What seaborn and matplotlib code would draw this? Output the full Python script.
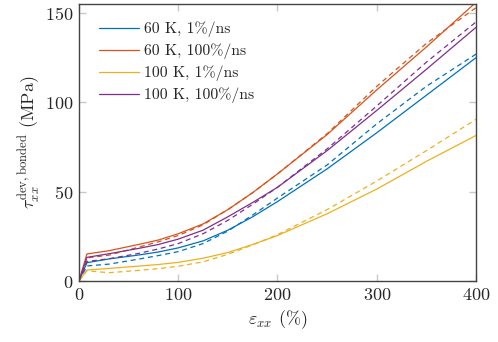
import pandas as pd
import matplotlib
matplotlib.use('Agg')
import matplotlib.pyplot as plt
import seaborn as sns

strain = [0, 8, 30, 60, 80, 100, 125, 150, 175, 200, 250, 300, 350, 400]

# solid = simulation, dashed = model
k60_slow = [0, 10.3, 12.4, 14.6, 16.3, 18.6, 22.5, 28.5, 36, 44.5, 62.8, 83, 104, 125]
k60_slow_dash = [0, 8.5, 9.5, 12.3, 14.3, 16.5, 21, 28, 37, 46.5, 65, 88, 109, 127]
k60_fast = [0, 15.2, 17, 20.5, 23, 26.5, 32, 40, 49.5, 60, 82, 107, 131, 156]
k60_fast_dash = [0, 13, 14.5, 19, 22, 25.5, 31.5, 40, 49.5, 60, 82.5, 109, 133, 153]
k100_slow = [0, 6.2, 7.1, 8.4, 9.3, 10.5, 12.8, 16, 20.5, 25.5, 37.7, 51.5, 67, 81.5]
k100_slow_dash = [0, 5.8, 4.7, 6.0, 7, 8.3, 10.8, 15, 20.3, 26, 40, 56, 73, 90.5]
k100_fast = [0, 13.3, 15.3, 18.3, 20.5, 23.5, 28.5, 36, 44, 52.5, 73, 95.5, 118.5, 142]
k100_fast_dash = [0, 11, 12.5, 15.5, 18, 21, 26.5, 34, 43, 52.5, 74, 98, 122.5, 145]

labels = ['60 K, 1%/ns', '60 K, 100%/ns', '100 K, 1%/ns', '100 K, 100%/ns']
colors = ['#0072BD', '#D95319', '#EDB120', '#7E2F8E']
solid = [k60_slow, k60_fast, k100_slow, k100_fast]
dashed = [k60_slow_dash, k60_fast_dash, k100_slow_dash, k100_fast_dash]

sns.set_style('ticks')
plt.rcParams['font.family'] = ['cmr10', 'DejaVu Serif']
plt.rcParams['mathtext.fontset'] = 'cm'
plt.rcParams['axes.unicode_minus'] = False
plt.rcParams['axes.formatter.use_mathtext'] = True

fig = plt.figure(figsize=(4.98, 3.42), dpi=100)
ax = fig.add_axes([0.1586, 0.178, 0.7972, 0.810])

for lab, col, ys, yd in zip(labels, colors, solid, dashed):
    sns.lineplot(x=strain, y=ys, color=col, lw=0.9, label=lab, ax=ax)
    sns.lineplot(x=strain, y=yd, color=col, lw=0.9, ls=(0, (4, 3)), ax=ax)

ax.set_xlim(0, 400)
ax.set_ylim(0, 155)
ax.set_xticks([0, 100, 200, 300, 400])
ax.set_yticks([0, 50, 100, 150])
ax.tick_params(direction='in', length=5, width=1, color='#c8c8c8',
               labelsize=13, top=True, right=True, pad=4)
for s in ax.spines.values():
    s.set_color('#444444')
    s.set_linewidth(1)

ax.set_xlabel(r'$\varepsilon_{xx}$ (%)', fontsize=13, labelpad=4)
ax.set_ylabel(r'$\tau_{xx}^{\mathrm{dev,bonded}}$ (MPa)', fontsize=13, labelpad=2)

ax.legend(loc='upper left', frameon=False, fontsize=11.3, handlelength=2.55,
          handletextpad=0.35, labelspacing=0.4, borderaxespad=0.4,
          bbox_to_anchor=(0.018, 0.982))

fig.savefig('out.png', dpi=100)
